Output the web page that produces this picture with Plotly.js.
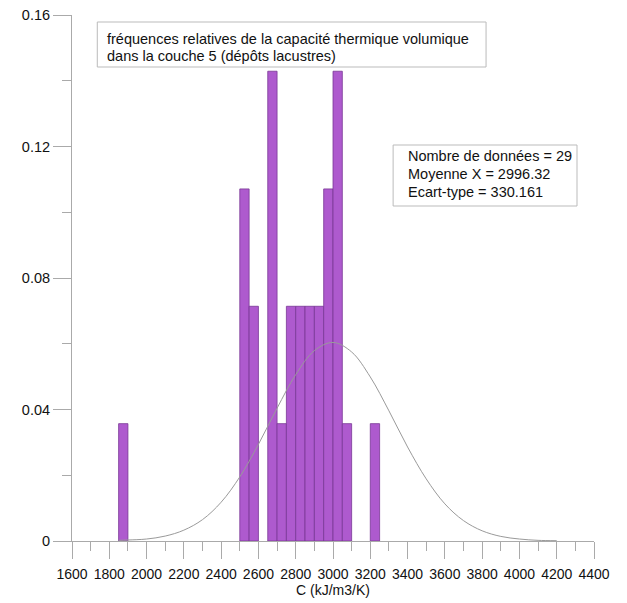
<!DOCTYPE html>
<html>
<head>
<meta charset="utf-8">
<script src="https://cdn.plot.ly/plotly-3.0.1.min.js"></script>
<style>html,body{margin:0;padding:0;background:#fff;}#chart{width:627px;height:603px;}</style>
</head>
<body>
<div id="chart"></div>
<script>
// Histogram bins (left edge, width 50 kJ/m3/K) and relative frequencies
const binLeft = [1850, 2500, 2550, 2650, 2700, 2750, 2800, 2850, 2900, 2950, 3000, 3050, 3200];
const relFreq = [0.0357, 0.1071, 0.0714, 0.1429, 0.0357, 0.0714, 0.0714, 0.0714, 0.0714, 0.1071, 0.1429, 0.0357, 0.0357];
const binWidth = 50;

// Fitted normal curve
const curveX = [1850, 1900, 2000, 2100, 2200, 2300, 2400, 2500, 2600, 2700, 2800, 2900, 3000, 3100, 3200, 3300, 3400, 3500, 3600, 3700, 3800, 3900, 4000, 4100, 4200];
const curveY = [0.0002, 0.0003, 0.0006, 0.0015, 0.0033, 0.0065, 0.0118, 0.0195, 0.0294, 0.0404, 0.0506, 0.0579, 0.0604, 0.0575, 0.0499, 0.0396, 0.0286, 0.0189, 0.0113, 0.0062, 0.0031, 0.0014, 0.0006, 0.0002, 0.0001];

const titleLines = ["fréquences relatives de la capacité thermique volumique", "dans la couche 5 (dépôts lacustres)"];
const statLines = ["Nombre de données = 29", "Moyenne X = 2996.32", "Ecart-type = 330.161"];
const xTitle = "C (kJ/m3/K)";

const FONT = "Arial, 'Liberation Sans', Helvetica, sans-serif";

const traces = [
  {
    type: 'bar',
    x: binLeft,
    y: relFreq,
    width: binWidth,
    offset: 0,
    marker: {color: 'rgb(174,90,206)', line: {color: 'rgb(120,55,150)', width: 0.8}},
    hoverinfo: 'x+y'
  },
  {
    type: 'scatter',
    mode: 'lines',
    x: curveX,
    y: curveY,
    line: {color: '#9a9a9a', width: 1, shape: 'spline'},
    hoverinfo: 'skip'
  }
];

const annotations = [];
titleLines.forEach((t, i) => annotations.push({
  xref: 'paper', yref: 'paper', x: 0.0638, y: (541 - (39 + i * 17.5)) / 526,
  xanchor: 'left', yanchor: 'middle', showarrow: false, text: t,
  font: {family: FONT, size: 14.5, color: '#111'}
}));
statLines.forEach((t, i) => annotations.push({
  xref: 'paper', yref: 'paper', x: (406 - 71.7) / 522.3, y: (541 - (156 + i * 18)) / 526,
  xanchor: 'left', yanchor: 'middle', showarrow: false, text: t,
  font: {family: FONT, size: 14.5, color: '#111'}
}));

const shapes = [
  {type: 'rect', xref: 'paper', yref: 'paper',
   x0: (97 - 71.7) / 522.3, x1: (486 - 71.7) / 522.3,
   y0: (541 - 67) / 526, y1: (541 - 22) / 526,
   line: {color: '#bbbbbb', width: 1}, fillcolor: 'rgba(0,0,0,0)'},
  {type: 'rect', xref: 'paper', yref: 'paper',
   x0: (393 - 71.7) / 522.3, x1: (577 - 71.7) / 522.3,
   y0: (541 - 206) / 526, y1: (541 - 145) / 526,
   line: {color: '#bbbbbb', width: 1}, fillcolor: 'rgba(0,0,0,0)'}
];

const layout = {
  width: 627, height: 603,
  margin: {l: 72, r: 33, t: 15, b: 62, pad: 0},
  paper_bgcolor: '#fff', plot_bgcolor: '#fff',
  showlegend: false,
  bargap: 0,
  font: {family: FONT, size: 14, color: '#111'},
  xaxis: {
    range: [1600, 4400], tickmode: 'linear', tick0: 1600, dtick: 200,
    ticks: 'outside', ticklen: 17, tickcolor: '#aaaaaa', tickwidth: 1,
    minor: {dtick: 100, tick0: 1600, ticks: 'outside', ticklen: 9, tickcolor: '#aaaaaa', showgrid: false},
    showline: true, linecolor: '#aaaaaa', linewidth: 1,
    showgrid: false, zeroline: false,
    ticklabelstandoff: 3,
    tickfont: {family: FONT, size: 14, color: '#111'},
    title: {text: xTitle, font: {family: FONT, size: 14, color: '#111'}, standoff: 3}
  },
  yaxis: {
    range: [0, 0.16], tickmode: 'array', tickvals: [0, 0.04, 0.08, 0.12, 0.16], ticktext: ['0', '0.04', '0.08', '0.12', '0.16'],
    ticks: 'outside', ticklen: 18, tickcolor: '#aaaaaa', tickwidth: 1,
    minor: {tickmode: 'array', tickvals: [0.02, 0.06, 0.10, 0.14], ticks: 'outside', ticklen: 9, tickcolor: '#aaaaaa', showgrid: false},
    showline: true, linecolor: '#aaaaaa', linewidth: 1,
    showgrid: false, zeroline: false,
    tickfont: {family: FONT, size: 14.5, color: '#111'}
  },
  annotations: annotations,
  shapes: shapes
};

Plotly.newPlot('chart', traces, layout, {displayModeBar: false, staticPlot: true});
</script>
</body>
</html>
